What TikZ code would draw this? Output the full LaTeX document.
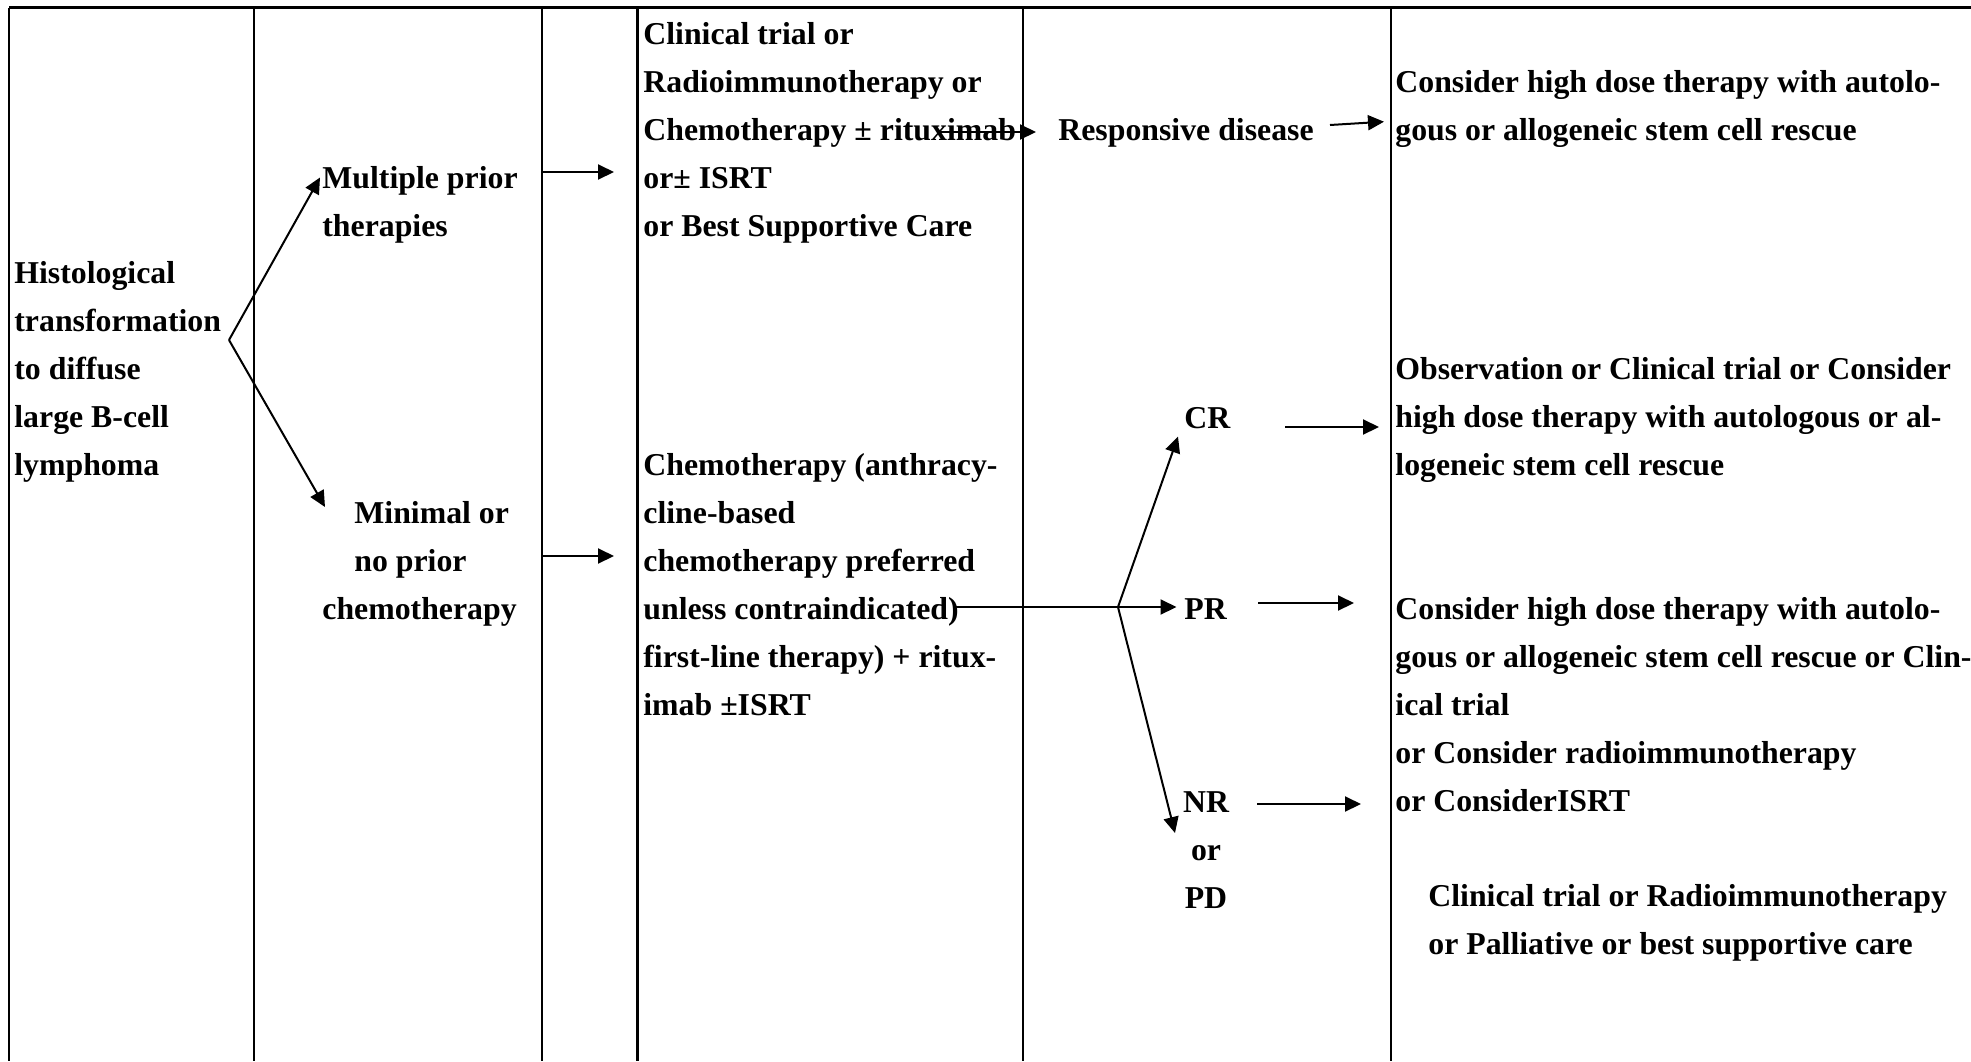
\documentclass[tikz,border=0pt]{standalone}
\usepackage{fontspec}
\setmainfont{Liberation Serif}
\usetikzlibrary{arrows.meta}
\begin{document}
\begin{tikzpicture}[x=0.5pt,y=-0.5pt,
  txt/.style={anchor=north west, inner sep=0pt, align=left,
    font=\fontsize{15.9pt}{24pt}\selectfont\bfseries},
  one/.style={txt, anchor=base west},
  arr/.style={line width=1pt, -{Triangle[length=8pt,width=7.5pt]}},
  rulev/.style={line width=1.1pt},
  ruleh/.style={line width=1.4pt}]
\useasboundingbox (0,0) rectangle (1971,1061);
% table rules
\draw[ruleh] (9,7.5) -- (1971,7.5);
\foreach \xx in {9,254,542,637.5,1023,1391}
  \draw[rulev] (\xx,7.5) -- (\xx,1061);
% column 1
\node[txt] (hist) at (14,249.4) {\strut Histological\\transformation\\to diffuse\\large B-cell\\lymphoma};
% column 2
\node[txt] (mult) at (322,154.4) {\strut Multiple prior\\therapies};
\node[txt] (mini) at (322,489.4) {\strut\hspace*{16pt}Minimal or\\\hspace*{16pt}no prior\\chemotherapy};
% column 4
\node[txt] (opt1) at (643,10.4) {\strut Clinical trial or\\Radioimmunotherapy or\\Chemotherapy ± rituximab\\or± ISRT\\or Best Supportive Care};
\node[txt] (chemo) at (643,441.4) {\strut Chemotherapy (anthracy-\\cline-based\\chemotherapy preferred\\unless contraindicated)\\first-line therapy) + ritux-\\imab ±ISRT};
% column 5
\node[one] (resp) at (1058,140) {Responsive disease};
\node[one] (cr) at (1184,428) {CR};
\node[one] (pr) at (1184,619) {PR};
\node[txt, anchor=north, align=center] (nr) at (1206,778.4) {\strut NR\\or\\PD};
% column 6
\node[txt] (r1) at (1395,58.4) {\strut Consider high dose therapy with autolo-\\gous or allogeneic stem cell rescue};
\node[txt] (r2) at (1395,345.4) {\strut Observation or Clinical trial or Consider\\high dose therapy with autologous or al-\\logeneic stem cell rescue};
\node[txt] (r3) at (1395,585.4) {\strut Consider high dose therapy with autolo-\\gous or allogeneic stem cell rescue or Clin-\\ical trial\\or Consider radioimmunotherapy\\or ConsiderISRT};
\node[txt] (r4) at (1428,872.4) {\strut Clinical trial or Radioimmunotherapy\\or Palliative or best supportive care};
% connector points
\coordinate (v1) at (229,340);
\coordinate (tmult) at (320,177.5);
\coordinate (tmini) at (325,507);
\coordinate (a2s) at (543,172);
\coordinate (a2e) at (614,172);
\coordinate (a3s) at (543,556);
\coordinate (a3e) at (614,556);
\coordinate (a4s) at (938,132);
\coordinate (a4e) at (1036,132);
\coordinate (a5s) at (1330,125);
\coordinate (a5e) at (1384,121.7);
\coordinate (a6s) at (955,607);
\coordinate (v2) at (1118,607);
\coordinate (tpr) at (1176.5,607);
\coordinate (tcr) at (1178,436.6);
\coordinate (tnr) at (1175,833);
\coordinate (a7s) at (1285,427);
\coordinate (a7e) at (1379,427);
\coordinate (a8s) at (1258,603);
\coordinate (a8e) at (1354,603);
\coordinate (a9s) at (1257,804);
\coordinate (a9e) at (1361,804);
% connectors
\draw[arr] (v1) -- (tmult);
\draw[arr] (v1) -- (tmini);
\draw[arr] (a2s) -- (a2e);
\draw[arr] (a3s) -- (a3e);
\draw[arr] (a4s) -- (a4e);
\draw[arr] (a5s) -- (a5e);
\draw[line width=1pt] (a6s) -- (v2);
\draw[arr] (v2) -- (tpr);
\draw[arr] (v2) -- (tcr);
\draw[arr] (v2) -- (tnr);
\draw[arr] (a7s) -- (a7e);
\draw[arr] (a8s) -- (a8e);
\draw[arr] (a9s) -- (a9e);
\end{tikzpicture}
\end{document}
